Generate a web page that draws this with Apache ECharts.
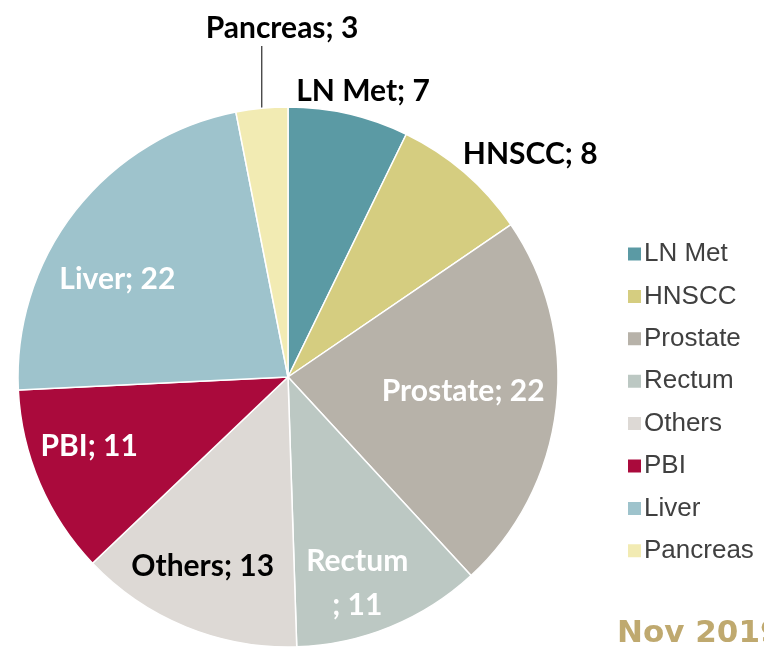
<!DOCTYPE html>
<html>
<head>
<meta charset="utf-8">
<script src="https://cdn.jsdelivr.net/npm/echarts@6/dist/echarts.min.js"></script>
<style>
html, body { margin: 0; padding: 0; background: #fff; }
#main { width: 764px; height: 648px; }
</style>
</head>
<body>
<div id="main"></div>
<script>
// 数据
var names = ['LN Met', 'HNSCC', 'Prostate', 'Rectum', 'Others', 'PBI', 'Liver', 'Pancreas'];
var values = [7, 8, 22, 11, 13, 11, 22, 3];
var colors = ['#5B9AA4', '#D5CD80', '#B7B2A9', '#BCC8C3', '#DDD9D5', '#AA0A3C', '#9EC3CC', '#F2EBB3'];
var labelColors = ['#000', '#000', '#fff', '#fff', '#000', '#fff', '#fff', '#000'];
var labelPos = ['inside', 'inside', 'inside', 'inside', 'inside', 'inside', 'inside', 'outside'];
// 标签偏移
var labelDx = [44, 152, 38, 17, -33, -72, -62, 0];
var labelDy = [-151, -118, -1, 79, 62, 15, -13, 0];

function initChart() {
    var dom = document.getElementById('main');
    var myChart = echarts.init(dom);
    var pieData = [];
    for (var i = 0; i < names.length; i++) {
        pieData.push({
            name: names[i],
            value: values[i],
            itemStyle: { color: colors[i] },
            label: {
                position: labelPos[i],
                color: labelColors[i],
                formatter: names[i] == 'Rectum' ? '{b}\n; {c}' : '{b}; {c}'
            },
            labelLine: {
                show: labelPos[i] == 'outside',
                length: 58,
                length2: 0,
                lineStyle: { color: '#000', width: 1 }
            }
        });
    }
    var option = {
        backgroundColor: '#fff',
        animation: false,
        title: {
            text: 'Nov 2019',
            left: 612,
            top: 613,
            textStyle: { color: '#BFA96F', fontFamily: 'DejaVu Sans', fontWeight: 'bold', fontSize: 31 }
        },
        legend: {
            orient: 'vertical',
            left: 621,
            top: 236,
            itemWidth: 15,
            itemHeight: 15,
            itemGap: 16.4,
            icon: 'rect',
            data: names,
            textStyle: { color: '#404040', fontFamily: 'Liberation Sans', fontSize: 26, lineHeight: 25, padding: [0, 0, 0, -3] }
        },
        series: [
            {
                type: 'pie',
                center: [288, 377],
                radius: [0, 270],
                startAngle: 90,
                clockwise: true,
                avoidLabelOverlap: false,
                itemStyle: { borderColor: '#fff', borderWidth: 1.5 },
                label: {
                    fontFamily: 'Lato',
                    fontWeight: 'bold',
                    fontSize: 30,
                    lineHeight: 44
                },
                labelLayout: function (params) {
                    var i = params.dataIndex;
                    if (labelPos[i] == 'outside') {
                        var p0 = params.labelLinePoints[0];
                        return {
                            x: 282, y: 28, align: 'center', verticalAlign: 'middle',
                            labelLinePoints: [[p0[0], p0[1]], [p0[0], p0[1]], [p0[0], 46]]
                        };
                    }
                    return { dx: labelDx[i], dy: labelDy[i] };
                },
                data: pieData
            }
        ]
    };
    myChart.setOption(option, true);
}

initChart();
</script>
</body>
</html>
